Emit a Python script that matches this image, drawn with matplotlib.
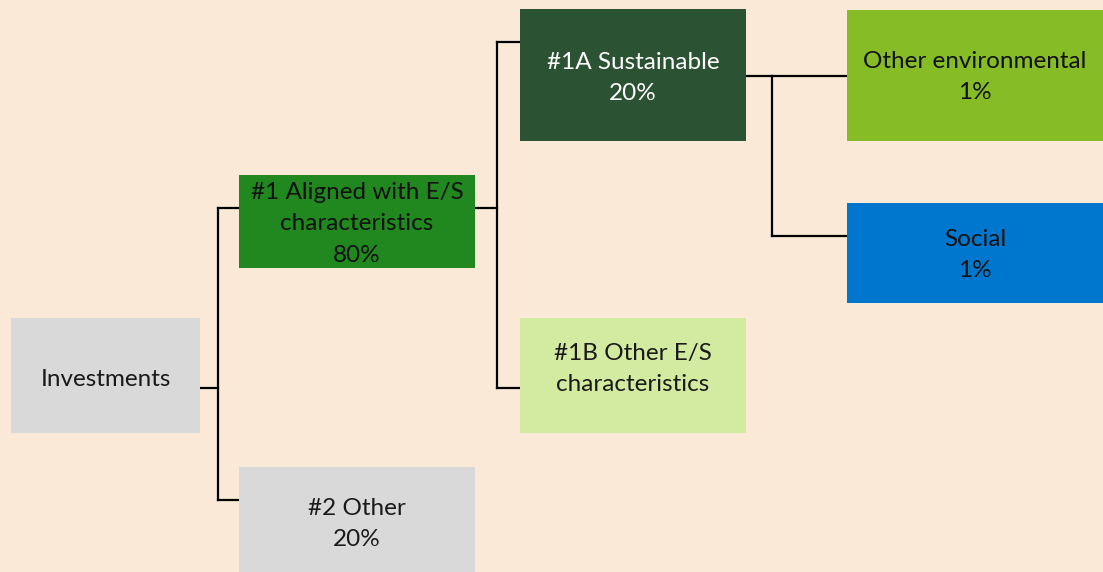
import matplotlib.pyplot as plt
from matplotlib.patches import Rectangle

# 数据
labels = ["Investments",
          "#1 Aligned with E/S\ncharacteristics",
          "#2 Other",
          "#1A Sustainable",
          "#1B Other E/S\ncharacteristics",
          "Other environmental",
          "Social"]
shares = [None, "80%", "20%", "20%", None, "1%", "1%"]
parents = [None, 0, 0, 1, 1, 3, 3]

# 样式
fills = ["#D9D9D9", "#21871F", "#D9D9D9", "#2C5234", "#D2EBA0", "#86BC25", "#0077CF"]
text_colors = ["#1a1a1a", "#111111", "#1a1a1a", "#FFFFFF", "#1a1a1a", "#111111", "#111111"]

# 版面 (x0, y0, x1, y1) 像素
boxes = [(11, 318, 200, 433),
         (239, 175, 475, 268),
         (239, 467, 475, 575),
         (520, 9, 746, 141),
         (520, 318, 746, 433),
         (847, 10, 1106, 141),
         (847, 203, 1106, 303)]
text_y = [379, 224, 524, 78, 369, 77, 255]
# 连接线: 父节点出线 y, 竖线 x, 子节点入线 y
elbow_x = {0: 218, 1: 497, 3: 772}
out_y = {0: 388, 1: 208, 3: 76}
in_y = {1: 208, 2: 500, 3: 42, 4: 388, 5: 76, 6: 236}

plt.rcParams['font.family'] = ['Lato', 'DejaVu Sans']

fig = plt.figure(figsize=(11.03, 5.72), dpi=100)
fig.patch.set_facecolor("#FAE9D7")
ax = fig.add_axes([0, 0, 1, 1])
ax.set_xlim(0, 1103)
ax.set_ylim(572, 0)
ax.axis("off")

for i, (x0, y0, x1, y1) in enumerate(boxes):
    ax.add_patch(Rectangle((x0, y0), x1 - x0, y1 - y0, facecolor=fills[i],
                           edgecolor="none", zorder=2))
    txt = labels[i] if shares[i] is None else labels[i] + "\n" + shares[i]
    ax.text((x0 + min(x1, 1103)) / 2, text_y[i], txt, ha="center", va="center",
            color=text_colors[i], fontsize=17.5, linespacing=1.62, zorder=3)

for p in elbow_x:
    kids = [k for k in range(len(parents)) if parents[k] == p]
    ex = elbow_x[p]
    px1 = boxes[p][2]
    ax.plot([px1, ex], [out_y[p], out_y[p]], color="black", lw=1.6, zorder=1)
    ys = [in_y[k] for k in kids] + [out_y[p]]
    ax.plot([ex, ex], [min(ys), max(ys)], color="black", lw=1.6, zorder=1)
    for k in kids:
        ax.plot([ex, boxes[k][0]], [in_y[k], in_y[k]], color="black", lw=1.6, zorder=1)

fig.savefig("out.png", dpi=100, facecolor=fig.get_facecolor())
